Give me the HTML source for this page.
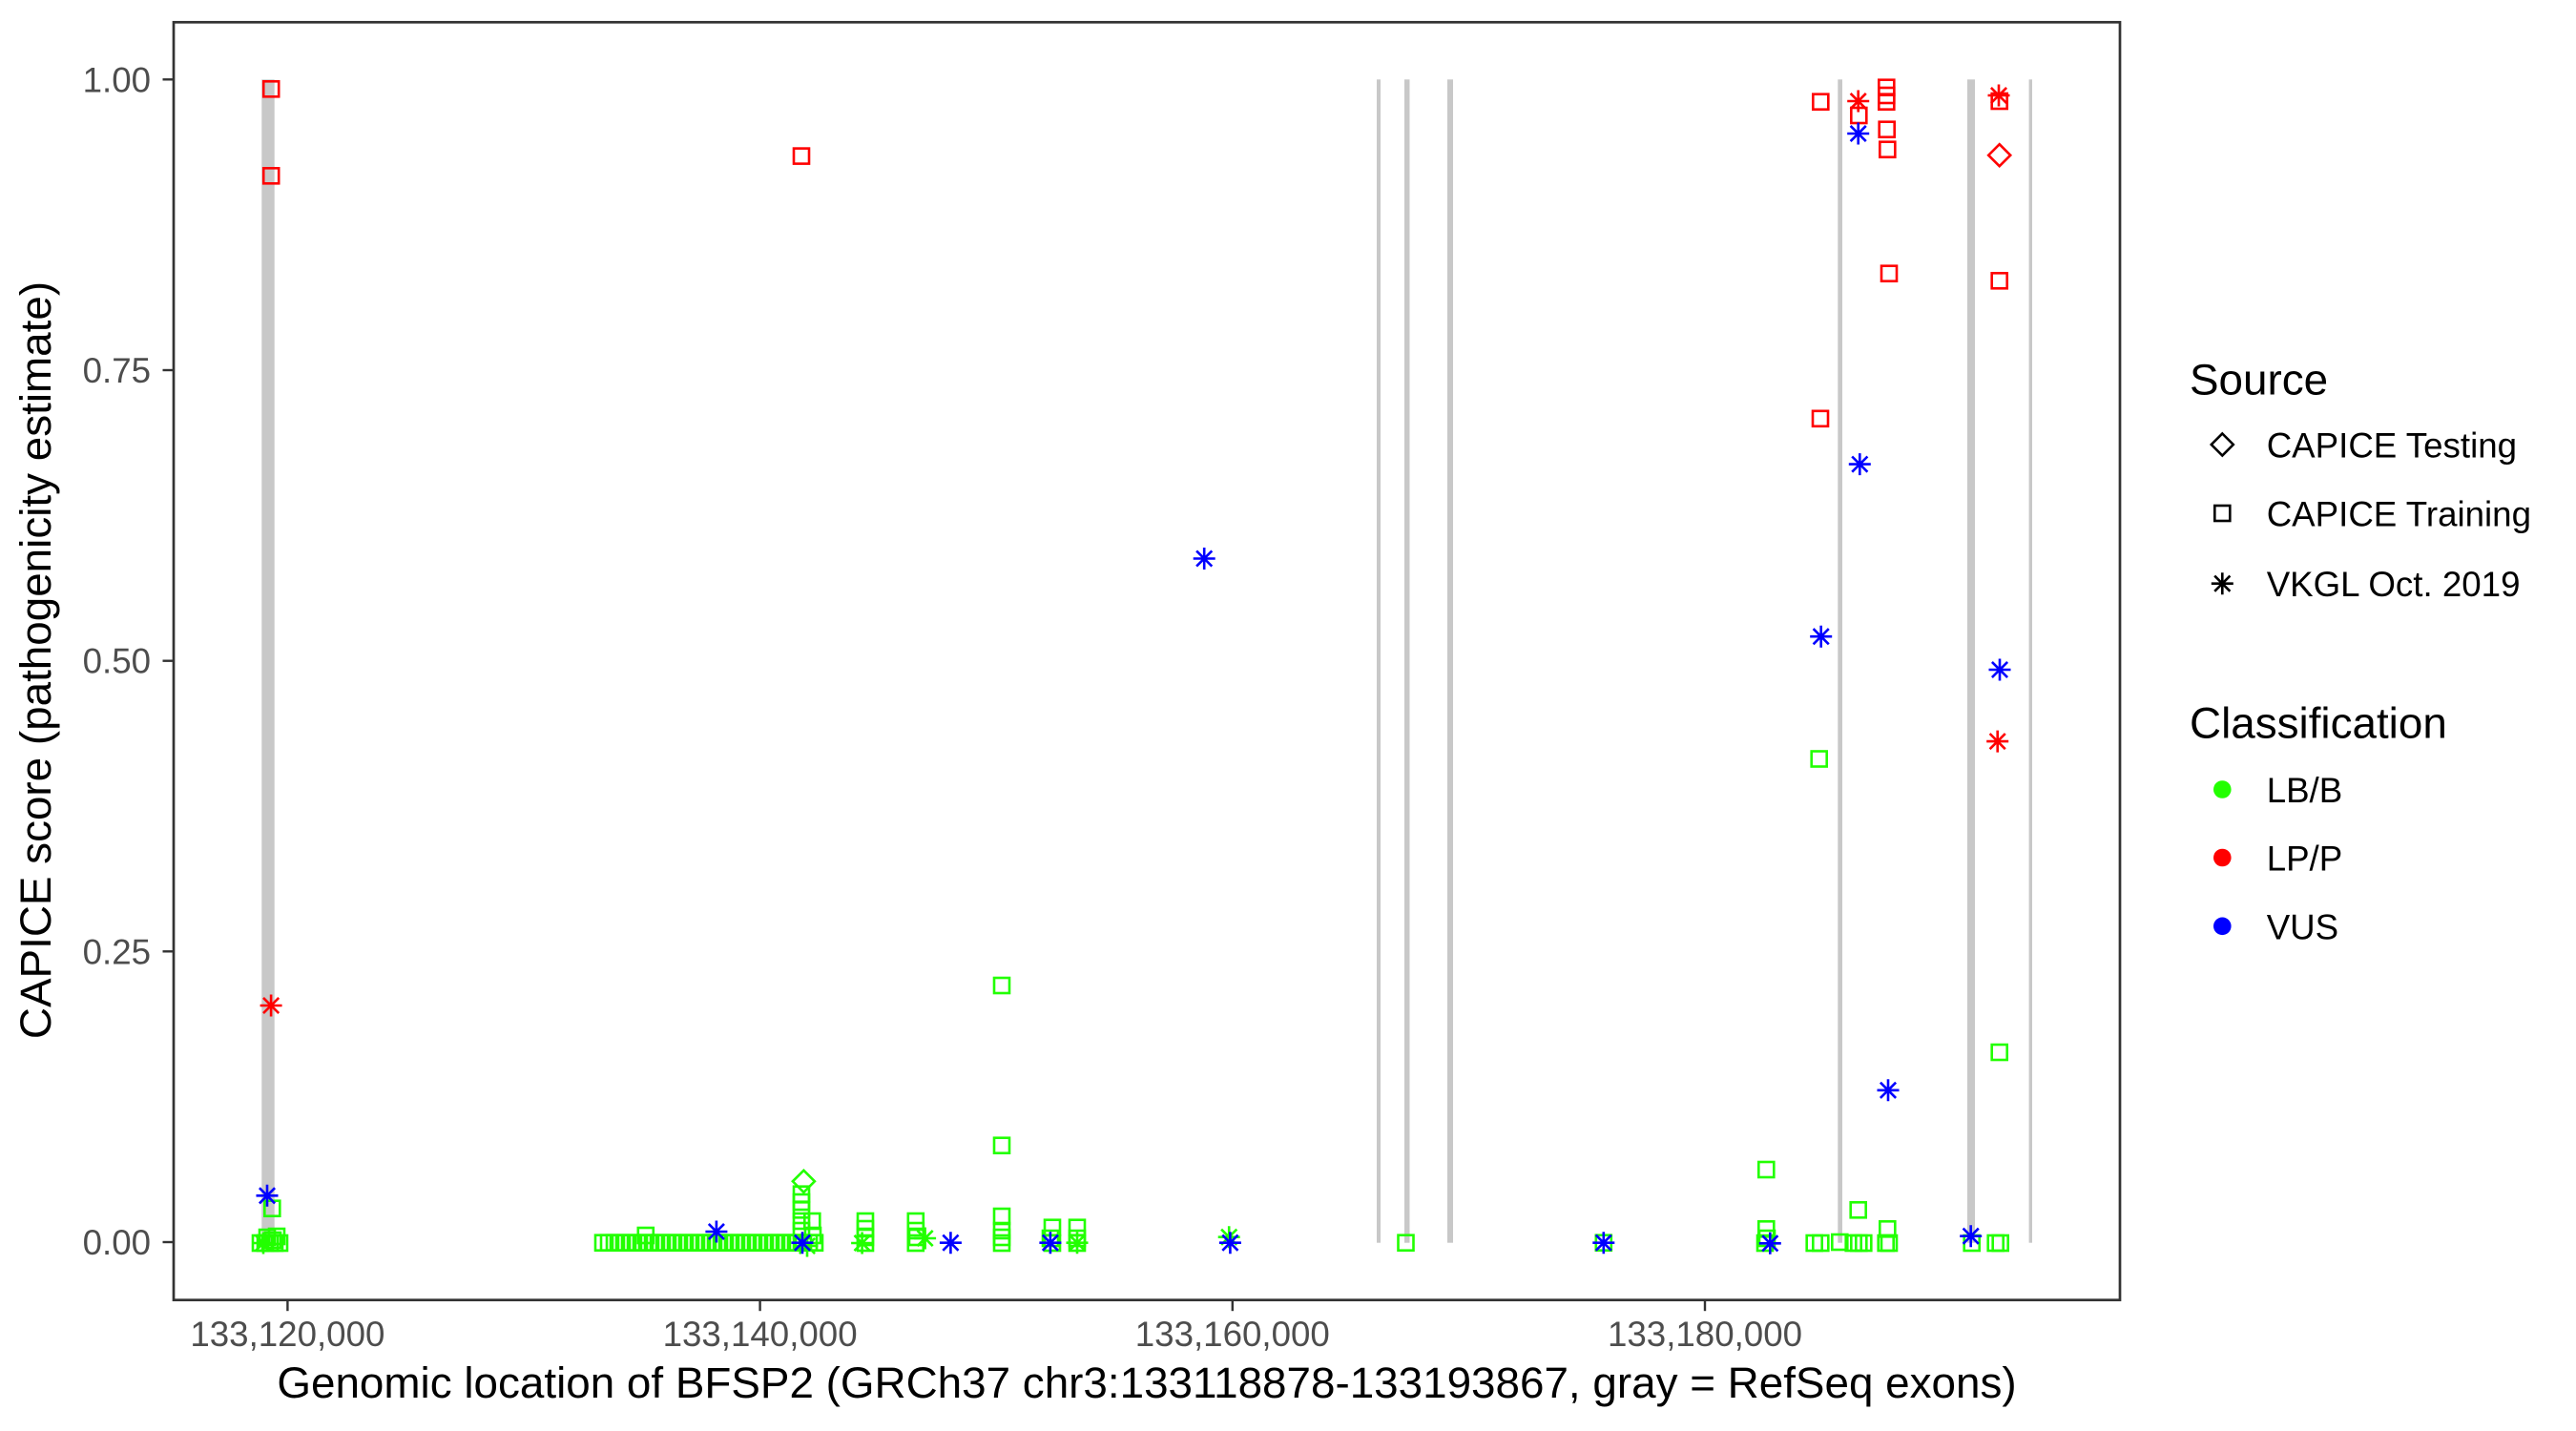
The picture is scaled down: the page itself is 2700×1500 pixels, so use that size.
<!DOCTYPE html>
<html>
<head>
<meta charset="utf-8">
<style>
html,body{margin:0;padding:0;background:#fff;}
svg{display:block;}
text{font-family:"Liberation Sans",Arial,sans-serif;}
</style>
</head>
<body>
<svg xmlns="http://www.w3.org/2000/svg" xmlns:xlink="http://www.w3.org/1999/xlink" width="2700" height="1500" viewBox="0 0 2700 1500">
<defs>
<rect id="sq" x="-8" y="-8" width="16" height="16" fill="none" stroke-width="2.6"/>
<path id="st" d="M-11.5,0H11.5M0,-11.5V11.5M-8.1,-8.1L8.1,8.1M-8.1,8.1L8.1,-8.1" fill="none" stroke-width="2.6"/>
<path id="dm" d="M0,-11.5L11.5,0L0,11.5L-11.5,0Z" fill="none" stroke-width="2.6"/>
</defs>
<rect x="0" y="0" width="2700" height="1500" fill="#fff"/>

<!-- exon rects -->
<g fill="#c8c8c8">
<rect x="274.3" y="83.3" width="13.4" height="1219.4"/>
<rect x="1443" y="83.3" width="4" height="1219.4"/>
<rect x="1472" y="83.3" width="5.5" height="1219.4"/>
<rect x="1517" y="83.3" width="6" height="1219.4"/>
<rect x="1926.3" y="83.3" width="4.7" height="1219.4"/>
<rect x="2062" y="83.3" width="8" height="1219.4"/>
<rect x="2126.6" y="83.3" width="3.4" height="1219.4"/>
</g>

<!-- green points -->
<g stroke="#22ff00">
<use xlink:href="#sq" x="285.3" y="1266.7"/>
<use xlink:href="#sq" x="273" y="1303"/>
<use xlink:href="#sq" x="278" y="1303"/>
<use xlink:href="#sq" x="283" y="1303"/>
<use xlink:href="#sq" x="288" y="1303"/>
<use xlink:href="#sq" x="293" y="1303"/>
<use xlink:href="#sq" x="280" y="1297"/>
<use xlink:href="#sq" x="290" y="1296"/>
<use xlink:href="#sq" x="286" y="1300"/>
<use xlink:href="#st" x="276" y="1303"/>

<use xlink:href="#sq" x="632" y="1302.7"/>
<use xlink:href="#sq" x="638" y="1302.7"/>
<use xlink:href="#sq" x="644" y="1302.7"/>
<use xlink:href="#sq" x="650" y="1302.7"/>
<use xlink:href="#sq" x="656" y="1302.7"/>
<use xlink:href="#sq" x="662" y="1302.7"/>
<use xlink:href="#sq" x="668" y="1302.7"/>
<use xlink:href="#sq" x="676.8" y="1295"/>
<use xlink:href="#sq" x="674" y="1302.7"/>
<use xlink:href="#sq" x="680" y="1302.7"/>
<use xlink:href="#sq" x="686" y="1302.7"/>
<use xlink:href="#sq" x="692" y="1302.7"/>
<use xlink:href="#sq" x="698" y="1302.7"/>
<use xlink:href="#sq" x="704" y="1302.7"/>
<use xlink:href="#sq" x="710" y="1302.7"/>
<use xlink:href="#sq" x="716" y="1302.7"/>
<use xlink:href="#sq" x="722" y="1302.7"/>
<use xlink:href="#sq" x="728" y="1302.7"/>
<use xlink:href="#sq" x="734" y="1302.7"/>
<use xlink:href="#sq" x="740" y="1302.7"/>
<use xlink:href="#sq" x="746" y="1302.7"/>
<use xlink:href="#sq" x="752" y="1302.7"/>
<use xlink:href="#sq" x="758" y="1302.7"/>
<use xlink:href="#sq" x="764" y="1302.7"/>
<use xlink:href="#sq" x="770" y="1302.7"/>
<use xlink:href="#sq" x="776" y="1302.7"/>
<use xlink:href="#sq" x="782" y="1302.7"/>
<use xlink:href="#sq" x="788" y="1302.7"/>
<use xlink:href="#sq" x="794" y="1302.7"/>
<use xlink:href="#sq" x="800" y="1302.7"/>
<use xlink:href="#sq" x="806" y="1302.7"/>
<use xlink:href="#sq" x="812" y="1302.7"/>
<use xlink:href="#sq" x="818" y="1302.7"/>
<use xlink:href="#sq" x="824" y="1302.7"/>
<use xlink:href="#sq" x="830" y="1302.7"/>
<use xlink:href="#sq" x="836" y="1302.7"/>
<use xlink:href="#sq" x="842" y="1302.7"/>
<use xlink:href="#sq" x="848" y="1302.7"/>
<use xlink:href="#sq" x="854" y="1302.7"/>
<use xlink:href="#dm" x="842.4" y="1238.3"/>
<use xlink:href="#sq" x="840" y="1251.7"/>
<use xlink:href="#sq" x="840" y="1260"/>
<use xlink:href="#sq" x="840" y="1268.3"/>
<use xlink:href="#sq" x="840" y="1280"/>
<use xlink:href="#sq" x="840" y="1290"/>
<use xlink:href="#sq" x="851.3" y="1280"/>
<use xlink:href="#sq" x="852" y="1295"/>
<use xlink:href="#st" x="846" y="1306"/>

<use xlink:href="#sq" x="907" y="1280"/>
<use xlink:href="#sq" x="907" y="1288"/>
<use xlink:href="#sq" x="907" y="1297"/>
<use xlink:href="#sq" x="907" y="1303"/>
<use xlink:href="#st" x="903.6" y="1303"/>

<use xlink:href="#sq" x="959.8" y="1280"/>
<use xlink:href="#sq" x="959.8" y="1290"/>
<use xlink:href="#sq" x="961" y="1297"/>
<use xlink:href="#sq" x="959.8" y="1303"/>
<use xlink:href="#st" x="969.6" y="1298"/>

<use xlink:href="#sq" x="1050" y="1033"/>
<use xlink:href="#sq" x="1050" y="1200.7"/>
<use xlink:href="#sq" x="1050" y="1275"/>
<use xlink:href="#sq" x="1050" y="1290"/>
<use xlink:href="#sq" x="1050" y="1297"/>
<use xlink:href="#sq" x="1050" y="1303"/>

<use xlink:href="#sq" x="1103" y="1286.7"/>
<use xlink:href="#sq" x="1101" y="1298"/>
<use xlink:href="#sq" x="1103" y="1303"/>

<use xlink:href="#sq" x="1129" y="1286.7"/>
<use xlink:href="#sq" x="1129" y="1298"/>
<use xlink:href="#sq" x="1129" y="1303"/>
<use xlink:href="#st" x="1129" y="1302.7"/>

<use xlink:href="#st" x="1288.2" y="1296.7"/>
<use xlink:href="#sq" x="1473.5" y="1302.7"/>
<use xlink:href="#sq" x="1680.8" y="1302.7"/>

<use xlink:href="#sq" x="1851.3" y="1226"/>
<use xlink:href="#sq" x="1851.3" y="1288.3"/>
<use xlink:href="#sq" x="1852" y="1298"/>
<use xlink:href="#sq" x="1850" y="1303"/>
<use xlink:href="#sq" x="1901.7" y="1303"/>
<use xlink:href="#sq" x="1908.3" y="1303"/>
<use xlink:href="#sq" x="1928.3" y="1302"/>
<use xlink:href="#sq" x="1942.7" y="1303"/>
<use xlink:href="#sq" x="1948.3" y="1303"/>
<use xlink:href="#sq" x="1953.3" y="1303"/>
<use xlink:href="#sq" x="1947.7" y="1268.3"/>
<use xlink:href="#sq" x="1978.3" y="1288.3"/>
<use xlink:href="#sq" x="1976.7" y="1303"/>
<use xlink:href="#sq" x="1980" y="1303"/>
<use xlink:href="#sq" x="2066.7" y="1303"/>
<use xlink:href="#sq" x="2091.7" y="1303"/>
<use xlink:href="#sq" x="2096.7" y="1303"/>
<use xlink:href="#sq" x="1906.7" y="795.5"/>
<use xlink:href="#sq" x="2095.7" y="1103"/>
</g>

<!-- red points -->
<g stroke="#ff0000">
<use xlink:href="#sq" x="284.2" y="93.3"/>
<use xlink:href="#sq" x="284.2" y="184.3"/>
<use xlink:href="#st" x="284.1" y="1054"/>
<use xlink:href="#sq" x="840" y="163.6"/>
<use xlink:href="#sq" x="1908" y="438.8"/>
<use xlink:href="#sq" x="1908.3" y="106.7"/>
<use xlink:href="#sq" x="1948.3" y="121"/>
<use xlink:href="#sq" x="1977.3" y="91.7"/>
<use xlink:href="#sq" x="1977.3" y="100"/>
<use xlink:href="#sq" x="1977.3" y="106.7"/>
<use xlink:href="#sq" x="1977.7" y="135.7"/>
<use xlink:href="#sq" x="1978.3" y="156.7"/>
<use xlink:href="#sq" x="1980" y="286.7"/>
<use xlink:href="#sq" x="2095.7" y="106"/>
<use xlink:href="#sq" x="2095.7" y="294.3"/>
<use xlink:href="#st" x="1947.7" y="106"/>
<use xlink:href="#st" x="2095" y="100"/>
<use xlink:href="#st" x="2093.7" y="777.1"/>
<use xlink:href="#dm" x="2095.7" y="162.7"/>
</g>

<!-- blue points -->
<g stroke="#0000ff">
<use xlink:href="#st" x="280" y="1253.3"/>
<use xlink:href="#st" x="750.9" y="1291"/>
<use xlink:href="#st" x="841" y="1302.7"/>
<use xlink:href="#st" x="996.4" y="1302.7"/>
<use xlink:href="#st" x="1100.9" y="1302.7"/>
<use xlink:href="#st" x="1262.2" y="585.5"/>
<use xlink:href="#st" x="1289.4" y="1302.7"/>
<use xlink:href="#st" x="1680.8" y="1302.7"/>
<use xlink:href="#st" x="1855.3" y="1303.3"/>
<use xlink:href="#st" x="2065.7" y="1295.7"/>
<use xlink:href="#st" x="1949.3" y="486.6"/>
<use xlink:href="#st" x="1947.7" y="140"/>
<use xlink:href="#st" x="1908.7" y="667.2"/>
<use xlink:href="#st" x="2096" y="702"/>
<use xlink:href="#st" x="1979" y="1142.8"/>
</g>

<!-- panel border -->
<rect x="182" y="23.3" width="2040" height="1339.4" fill="none" stroke="#333333" stroke-width="2.7"/>

<!-- y ticks -->
<g stroke="#333333" stroke-width="2.4">
<line x1="170.5" y1="83.3" x2="182" y2="83.3"/>
<line x1="170.5" y1="388" x2="182" y2="388"/>
<line x1="170.5" y1="692.7" x2="182" y2="692.7"/>
<line x1="170.5" y1="997.3" x2="182" y2="997.3"/>
<line x1="170.5" y1="1302" x2="182" y2="1302"/>
<line x1="301.4" y1="1362.7" x2="301.4" y2="1374.2"/>
<line x1="796.6" y1="1362.7" x2="796.6" y2="1374.2"/>
<line x1="1291.8" y1="1362.7" x2="1291.8" y2="1374.2"/>
<line x1="1787" y1="1362.7" x2="1787" y2="1374.2"/>
</g>
<g font-size="36.7" fill="#4d4d4d" text-anchor="end">
<text x="158" y="96.3">1.00</text>
<text x="158" y="401">0.75</text>
<text x="158" y="705.7">0.50</text>
<text x="158" y="1010.3">0.25</text>
<text x="158" y="1315">0.00</text>
</g>
<g font-size="36.7" fill="#4d4d4d" text-anchor="middle">
<text x="301.4" y="1411">133,120,000</text>
<text x="796.6" y="1411">133,140,000</text>
<text x="1291.8" y="1411">133,160,000</text>
<text x="1787" y="1411">133,180,000</text>
</g>

<!-- axis titles -->
<text x="1202" y="1465" font-size="45.8" fill="#000" text-anchor="middle">Genomic location of BFSP2 (GRCh37 chr3:133118878-133193867, gray = RefSeq exons)</text>
<text transform="translate(53,692) rotate(-90)" font-size="45.8" fill="#000" text-anchor="middle">CAPICE score (pathogenicity estimate)</text>

<!-- legend -->
<text x="2295" y="413.7" font-size="45.8" fill="#000">Source</text>
<g stroke="#000">
<use xlink:href="#dm" x="2329.3" y="466"/>
<use xlink:href="#sq" x="2329.3" y="538"/>
<use xlink:href="#st" x="2329.3" y="611.7"/>
</g>
<g font-size="36.7" fill="#000">
<text x="2375.7" y="479.5">CAPICE Testing</text>
<text x="2375.7" y="551.5">CAPICE Training</text>
<text x="2375.7" y="625">VKGL Oct. 2019</text>
</g>
<text x="2295" y="773.5" font-size="45.8" fill="#000">Classification</text>
<circle cx="2329.3" cy="827.5" r="9.3" fill="#22ff00"/>
<circle cx="2329.3" cy="899" r="9.3" fill="#ff0000"/>
<circle cx="2329.3" cy="970.8" r="9.3" fill="#0000ff"/>
<g font-size="36.7" fill="#000">
<text x="2375.7" y="841">LB/B</text>
<text x="2375.7" y="912.5">LP/P</text>
<text x="2375.7" y="984.3">VUS</text>
</g>
</svg>
</body>
</html>
